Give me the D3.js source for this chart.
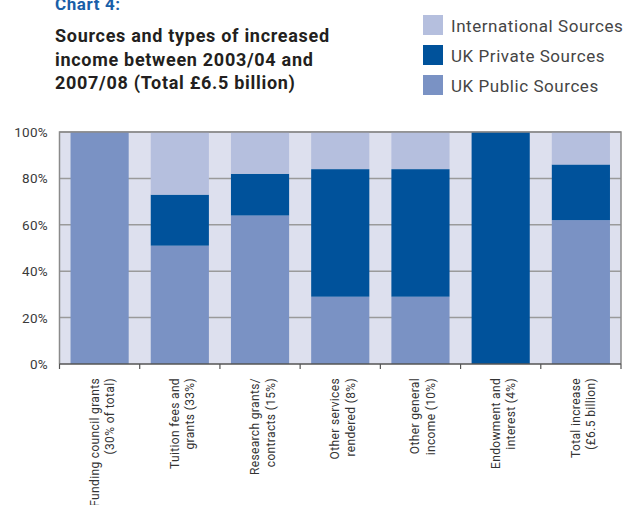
<!DOCTYPE html>
<html>
<head>
<meta charset="utf-8">
<script src="https://cdn.jsdelivr.net/npm/d3@7"></script>
<style>
  html, body { margin: 0; padding: 0; background: #fff; }
  svg { display: block; }
</style>
</head>
<body>
<svg id="chart" width="626" height="505"></svg>
<script>
// Income categories (x axis), each label split into two lines
const categories = [
  ["Funding council grants", "(30% of total)"],
  ["Tuition fees and", "grants (33%)"],
  ["Research grants/", "contracts (15%)"],
  ["Other services", "rendered (8%)"],
  ["Other general", "income (10%)"],
  ["Endowment and", "interest (4%)"],
  ["Total increase", "(£6.5 billion)"]
];

// Share of each category's increase by source, in percent
const ukPublic      = [100, 51, 64, 29, 29, 0, 62];
const ukPrivate     = [0, 22, 18, 55, 55, 100, 24];
const international = [0, 27, 18, 16, 16, 0, 14];

const seriesNames  = ["UK Public Sources", "UK Private Sources", "International Sources"];
const seriesColors = ["#7a92c4", "#00529b", "#b5bfde"];
const yTicks = [0, 20, 40, 60, 80, 100];

const svg = d3.select("#chart");
const font = "Roboto, 'DejaVu Sans', sans-serif";

const margin = { left: 59.5, right: 621, top: 132, bottom: 364 };

const x = d3.scaleBand()
  .domain(d3.range(categories.length))
  .range([margin.left, margin.right])
  .paddingInner(0.275)
  .paddingOuter(0.1375);

const y = d3.scaleLinear().domain([0, 100]).range([margin.bottom, margin.top]);

// Title block
svg.append("text")
  .attr("x", 55).attr("y", 10)
  .attr("font-family", font).attr("font-weight", 700).attr("font-size", 17)
  .attr("letter-spacing", 0.6)
  .attr("fill", "#1a5fa8")
  .text("Chart 4:");

const titleLines = [
  "Sources and types of increased",
  "income between 2003/04 and",
  "2007/08 (Total £6.5 billion)"
];
svg.append("g").selectAll("text").data(titleLines).join("text")
  .attr("x", 55).attr("y", (d, i) => 42 + i * 23.5)
  .attr("font-family", font).attr("font-weight", 700).attr("font-size", 18)
  .attr("letter-spacing", 0.7)
  .attr("fill", "#231f20")
  .text(d => d);

// Legend (top to bottom: international, private, public)
const legendOrder = [2, 1, 0];
const legend = svg.append("g");
legendOrder.forEach((s, i) => {
  const gy = 15 + i * 30;
  legend.append("rect")
    .attr("x", 423).attr("y", gy).attr("width", 20).attr("height", 20)
    .attr("fill", seriesColors[s]);
  legend.append("text")
    .attr("x", 451).attr("y", gy + 16.5)
    .attr("font-family", font).attr("font-size", 17)
    .attr("letter-spacing", 0.55)
    .attr("fill", "#454545")
    .text(seriesNames[s]);
});

// Plot background
svg.append("rect")
  .attr("x", margin.left).attr("y", margin.top)
  .attr("width", margin.right - margin.left).attr("height", margin.bottom - margin.top)
  .attr("fill", "#dde0ee");

// Horizontal gridlines
svg.append("g").selectAll("line").data(yTicks.filter(t => t > 0)).join("line")
  .attr("x1", margin.left).attr("x2", margin.right)
  .attr("y1", d => y(d)).attr("y2", d => y(d))
  .attr("stroke", "#9a9a9a").attr("stroke-width", 1.5);

// Stacked bars
const rows = categories.map((c, i) => ({
  i, public: ukPublic[i], private: ukPrivate[i], intl: international[i]
}));
const stack = d3.stack().keys(["public", "private", "intl"]);
const layers = stack(rows);

svg.append("g").selectAll("g").data(layers).join("g")
  .attr("fill", (d, k) => seriesColors[k])
  .selectAll("rect").data(d => d).join("rect")
  .attr("x", d => x(d.data.i))
  .attr("width", x.bandwidth())
  .attr("y", d => y(d[1]))
  .attr("height", d => y(d[0]) - y(d[1]));

// Frame: left, top, right borders
svg.append("path")
  .attr("d", `M${margin.left},${margin.bottom}V${margin.top}H${margin.right}V${margin.bottom}`)
  .attr("fill", "none").attr("stroke", "#8a8a8a").attr("stroke-width", 1.5);

// Y axis labels
svg.append("g").selectAll("text").data(yTicks).join("text")
  .attr("x", 48).attr("y", d => y(d) + 5)
  .attr("text-anchor", "end")
  .attr("font-family", font).attr("font-size", 13.5)
  .attr("letter-spacing", 0.3)
  .attr("fill", "#3a3a3a")
  .text(d => d + "%");

// X axis line with tick marks on band boundaries
const xAxis = svg.append("g");
xAxis.append("line")
  .attr("x1", margin.left).attr("x2", margin.right)
  .attr("y1", margin.bottom).attr("y2", margin.bottom)
  .attr("stroke", "#555").attr("stroke-width", 1.5);
const step = x.step();
const boundaries = d3.range(categories.length + 1).map(i => margin.left + i * step);
xAxis.selectAll("line.tick").data(boundaries).join("line")
  .attr("class", "tick")
  .attr("x1", d => d).attr("x2", d => d)
  .attr("y1", margin.bottom).attr("y2", margin.bottom + 5)
  .attr("stroke", "#555").attr("stroke-width", 1.2);

// Rotated category labels
const labels = svg.append("g").selectAll("text").data(categories).join("text")
  .attr("transform", (d, i) => `translate(${x(i) + x.bandwidth() / 2 - 1},378) rotate(-90)`)
  .attr("text-anchor", "end")
  .attr("font-family", font).attr("font-size", 12)
  .attr("letter-spacing", 0.35)
  .attr("fill", "#333");
labels.selectAll("tspan").data(d => d).join("tspan")
  .attr("x", 0)
  .attr("y", (d, j) => j === 0 ? 0 : 15.5)
  .text(d => d);
</script>
</body>
</html>
